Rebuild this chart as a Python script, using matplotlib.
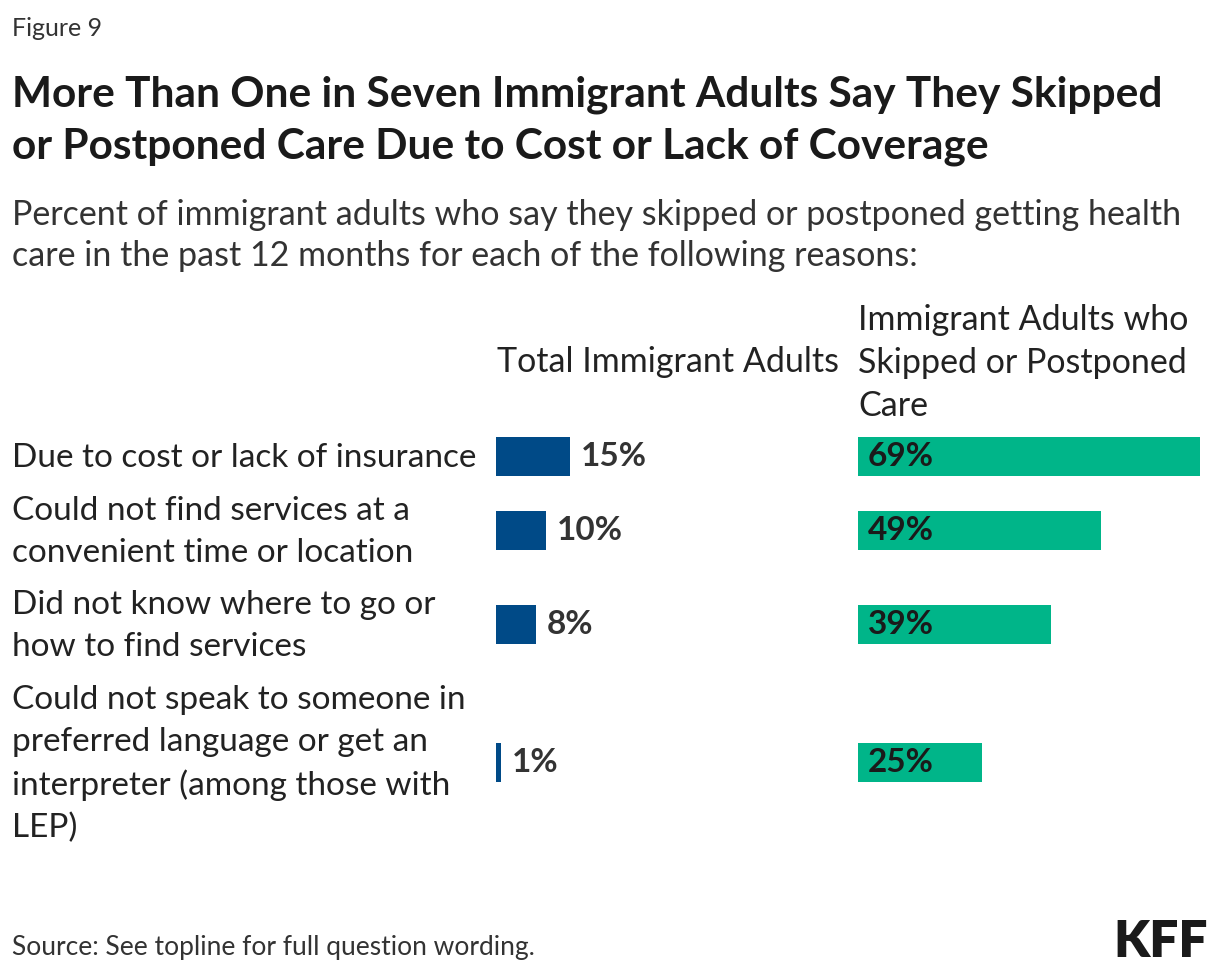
import matplotlib.pyplot as plt

plt.rcParams['font.family'] = ['Lato', 'DejaVu Sans']

categories = [
    "Due to cost or lack of insurance",
    "Could not find services at a\nconvenient time or location",
    "Did not know where to go or\nhow to find services",
    "Could not speak to someone in\npreferred language or get an\ninterpreter (among those with\nLEP)",
]
total_adults = [15, 10, 8, 1]
skipped_adults = [69, 49, 39, 25]

col_titles = ["Total Immigrant Adults", "Immigrant Adults who\nSkipped or Postponed\nCare"]

BLUE = "#004a87"
GREEN = "#00b589"
TXT = "#222222"

W, H = 1220, 974
fig = plt.figure(figsize=(W / 100, H / 100), dpi=100)


def fx(x):
    return x / W


def fy(y):
    return 1 - y / H


# row centres in pixels (layout)
row_y = [456, 530, 624, 762]
bar_h = 39
px_per_pct = 4.95

# axes in pixel space vertically: top 400, bottom 800
top, bot = 400, 800


def make_ax(x0, xmax):
    ax = fig.add_axes([fx(x0), fy(bot), xmax * px_per_pct / W, (bot - top) / H])
    ax.set_xlim(0, xmax)
    ax.set_ylim(bot, top)
    ax.axis("off")
    return ax


ax1 = make_ax(496, 20)
ax1.barh(row_y, total_adults, height=bar_h, color=BLUE)
for y, v in zip(row_y, total_adults):
    ax1.annotate(f"{v}%", (v, y + 1), xytext=(11, 0), textcoords="offset pixels",
                 va="center", ha="left", fontsize=24, fontweight="bold", color="#333333")

ax2 = make_ax(858, 70)
ax2.barh(row_y, skipped_adults, height=bar_h, color=GREEN)
for y, v in zip(row_y, skipped_adults):
    ax2.annotate(f"{v}%", (0, y + 1), xytext=(10, 0), textcoords="offset pixels",
                 va="center", ha="left", fontsize=24, fontweight="bold", color="#1a1a1a")

# row labels
for y, lab in zip(row_y, categories):
    fig.text(fx(12), fy(y + 2), lab, ha="left", va="center", fontsize=24,
             color=TXT, linespacing=1.48)

# column headers
fig.text(fx(497), fy(372), col_titles[0], ha="left", va="baseline", fontsize=24.5, color=TXT)
fig.text(fx(858), fy(416), col_titles[1], ha="left", va="baseline", fontsize=24.5,
         color=TXT, linespacing=1.42)

# titles
fig.text(fx(12), fy(36), "Figure 9", ha="left", va="baseline", fontsize=18, color="#333333")
fig.text(fx(12), fy(107), "More Than One in Seven Immigrant Adults Say They Skipped",
         ha="left", va="baseline", fontsize=30.5, fontweight="bold", color="#1a1a1a")
fig.text(fx(12), fy(159), "or Postponed Care Due to Cost or Lack of Coverage",
         ha="left", va="baseline", fontsize=30.5, fontweight="bold", color="#1a1a1a")
fig.text(fx(12), fy(225), "Percent of immigrant adults who say they skipped or postponed getting health",
         ha="left", va="baseline", fontsize=24.5, color="#333333")
fig.text(fx(12), fy(266), "care in the past 12 months for each of the following reasons:",
         ha="left", va="baseline", fontsize=24.5, color="#333333")

fig.text(fx(12), fy(955), "Source: See topline for full question wording.",
         ha="left", va="baseline", fontsize=19, color="#333333")
fig.text(fx(1208), fy(957), "KFF", ha="right", va="baseline", fontsize=37,
         fontweight="heavy", color="#1a1a1a")

fig.savefig("out.png", dpi=100, facecolor="white")
